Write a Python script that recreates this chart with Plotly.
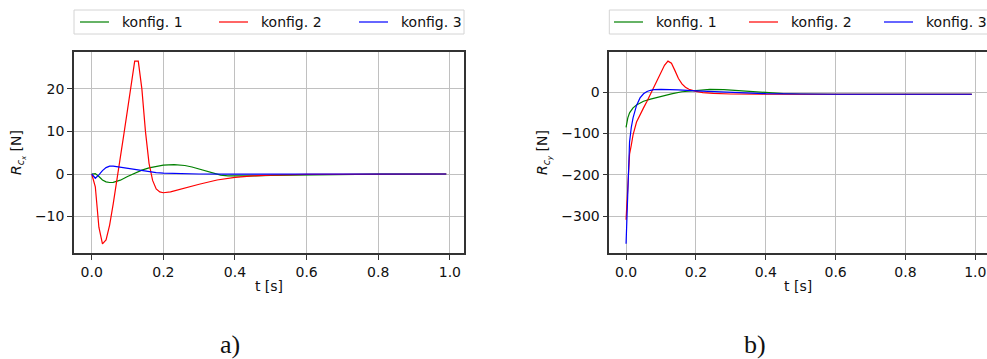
import plotly.graph_objects as go

# ---------------- data ----------------
# a) R_cx [N]
t_a_green = [0, 0.01, 0.02, 0.03, 0.04, 0.05, 0.06, 0.08, 0.10, 0.12, 0.14, 0.16, 0.18, 0.20, 0.23,
             0.26, 0.28, 0.30, 0.32, 0.34, 0.36, 0.38, 0.40, 0.45, 0.50, 0.60, 0.70, 0.80, 0.99]
v_a_green = [0, 0.1, -0.6, -1.4, -1.85, -2.0, -1.95, -1.45, -0.6, 0.2, 0.9, 1.45, 1.85, 2.1, 2.2,
             2.0, 1.65, 1.15, 0.6, 0.1, -0.25, -0.45, -0.5, -0.45, -0.35, -0.2, -0.1, -0.05, 0]

t_a_red = [0, 0.01, 0.02, 0.03, 0.04, 0.05, 0.06, 0.07, 0.08, 0.09, 0.10, 0.11, 0.12, 0.13, 0.14,
           0.15, 0.16, 0.17, 0.18, 0.19, 0.20, 0.22, 0.25, 0.30, 0.35, 0.40, 0.45, 0.50, 0.60,
           0.70, 0.80, 0.99]
v_a_red = [0, -3.0, -12.5, -16.4, -15.5, -12.0, -7.0, -1.8, 3.9, 9.5, 15.1, 20.7, 26.5, 26.5, 20.0,
           10.0, 2.5, -1.5, -3.5, -4.2, -4.4, -4.2, -3.5, -2.4, -1.4, -0.8, -0.45, -0.25, -0.1,
           -0.05, 0, 0]

t_a_blue = [0, 0.01, 0.02, 0.03, 0.04, 0.05, 0.06, 0.08, 0.10, 0.12, 0.14, 0.16, 0.18, 0.20, 0.25,
            0.30, 0.40, 0.99]
v_a_blue = [0, -1.0, -0.2, 0.8, 1.5, 1.85, 1.85, 1.6, 1.35, 1.05, 0.75, 0.5, 0.32, 0.2, 0.05,
            0.0, -0.05, 0]

# b) R_cy [N]
t_b_green = [0, 0.005, 0.01, 0.02, 0.03, 0.04, 0.05, 0.07, 0.10, 0.13, 0.16, 0.20, 0.24, 0.28,
             0.32, 0.36, 0.40, 0.45, 0.50, 0.60, 0.99]
v_b_green = [-85, -62, -50, -38, -31, -26, -22, -17, -10, -4, 1, 4.5, 6.5, 6, 4, 1, -1.5, -3.5,
             -4.5, -5, -5]

t_b_red = [0, 0.005, 0.01, 0.015, 0.02, 0.03, 0.04, 0.05, 0.06, 0.07, 0.08, 0.09, 0.10, 0.11,
           0.12, 0.13, 0.14, 0.15, 0.16, 0.17, 0.18, 0.20, 0.22, 0.25, 0.30, 0.40, 0.99]
v_b_red = [-308, -225, -150, -128, -103, -72, -53, -38, -22, -4, 15, 33, 50, 65, 75, 70, 52, 33,
           20, 12, 7, 2, -1, -3, -4.5, -5, -5]

t_b_blue = [0, 0.005, 0.01, 0.015, 0.02, 0.03, 0.04, 0.05, 0.06, 0.07, 0.08, 0.10, 0.12, 0.15,
            0.20, 0.25, 0.30, 0.35, 0.40, 0.50, 0.60, 0.99]
v_b_blue = [-366, -230, -120, -85, -62, -32, -14, -4, 1.5, 4.5, 6, 6.5, 6.3, 5.5, 3, 1, -1,
            -2.5, -3.5, -4.5, -5, -5]

names = ["konfig. 1", "konfig. 2", "konfig. 3"]
colors = ["green", "red", "blue"]
x_ticks = [0.0, 0.2, 0.4, 0.6, 0.8, 1.0]
y_ticks_a = [-10, 0, 10, 20]
y_ticks_b = [-300, -200, -100, 0]

# ---------------- figure ----------------
W, H = 987, 359
fig = go.Figure()

series_a = [(t_a_green, v_a_green), (t_a_red, v_a_red), (t_a_blue, v_a_blue)]
series_b = [(t_b_green, v_b_green), (t_b_red, v_b_red), (t_b_blue, v_b_blue)]

for (tt, vv), n, c in zip(series_a, names, colors):
    fig.add_trace(go.Scatter(x=tt, y=vv, mode="lines", name=n, line=dict(color=c, width=1.2),
                             xaxis="x", yaxis="y", showlegend=False))
for (tt, vv), n, c in zip(series_b, names, colors):
    fig.add_trace(go.Scatter(x=tt, y=vv, mode="lines", name=n, line=dict(color=c, width=1.2),
                             xaxis="x2", yaxis="y2", showlegend=False))

font = "DejaVu Sans"
fs = 14
tc = "#111111"
grid = "#c0c0c0"
spine = "#333333"


def px_x(p):
    return p / W


def px_y(p):
    return 1 - p / H


ydom = [px_y(253), px_y(52)]
common_x = dict(tickvals=x_ticks, tickformat=".1f", showgrid=True, gridcolor=grid, gridwidth=1.3,
                zeroline=False, showline=True, linecolor=spine, linewidth=1.5, ticks="outside",
                ticklen=5, tickcolor=spine, tickfont=dict(family=font, size=fs, color=tc),
                title=dict(text="t [s]", font=dict(family=font, size=fs, color=tc), standoff=3),
                automargin=False)
common_y = dict(showgrid=True, gridcolor=grid, gridwidth=1.3, zeroline=False, showline=True,
                linecolor=spine, linewidth=1.5, ticks="outside", ticklen=5, tickcolor=spine,
                tickfont=dict(family=font, size=fs, color=tc), automargin=False)

fig.update_layout(
    width=W, height=H, margin=dict(l=0, r=0, t=0, b=0, autoexpand=False),
    paper_bgcolor="white", plot_bgcolor="white", font=dict(family=font, size=fs, color=tc),
    showlegend=False,
    xaxis=dict(domain=[px_x(74), px_x(464)], range=[-0.0495, 1.0395], mirror=True, anchor="y",
               **common_x),
    yaxis=dict(domain=ydom, range=[-18.55, 28.65], tickvals=y_ticks_a, mirror=True, anchor="x",
               title=dict(text="<i>R</i><sub><i>c</i><sub><i>x</i></sub></sub> [N]",
                          font=dict(family=font, size=fs, color=tc), standoff=10),
               **common_y),
    xaxis2=dict(domain=[px_x(609.3), 1.0], range=[-0.048, 1.0335], mirror=True, anchor="y2",
                **common_x),
    yaxis2=dict(domain=ydom, range=[-388.5, 97], tickvals=y_ticks_b, mirror=False, anchor="x2",
                title=dict(text="<i>R</i><sub><i>c</i><sub><i>y</i></sub></sub> [N]",
                           font=dict(family=font, size=fs, color=tc), standoff=10),
                **common_y),
)

# ---------------- legends (drawn as boxes, line samples and texts) ----------------
legend_specs = [
    dict(box=(74, 464), lines=[80, 219, 359]),
    dict(box=(609.3, 1000), lines=[614, 749, 884]),
]
for spec in legend_specs:
    x0, x1 = spec["box"]
    fig.add_shape(type="rect", xref="paper", yref="paper", x0=px_x(x0), x1=px_x(x1),
                  y0=px_y(34), y1=px_y(10), line=dict(color="#d4d4d4", width=1),
                  fillcolor="white", layer="above")
    for lx, n, c in zip(spec["lines"], names, colors):
        fig.add_shape(type="line", xref="paper", yref="paper", x0=px_x(lx), x1=px_x(lx + 29),
                      y0=px_y(22), y1=px_y(22), line=dict(color=c, width=1.2), layer="above")
        fig.add_annotation(text=n, x=px_x(lx + 40), y=px_y(22), xref="paper", yref="paper",
                           xanchor="left", yanchor="middle", showarrow=False,
                           font=dict(family=font, size=fs, color=tc))

fig.add_annotation(text="a)", x=px_x(230), y=px_y(344), xref="paper", yref="paper",
                   xanchor="center", yanchor="middle", showarrow=False,
                   font=dict(family="Liberation Serif", size=26, color=tc))
fig.add_annotation(text="b)", x=px_x(755), y=px_y(344), xref="paper", yref="paper",
                   xanchor="center", yanchor="middle", showarrow=False,
                   font=dict(family="Liberation Serif", size=26, color=tc))

fig.write_html("out.html")
